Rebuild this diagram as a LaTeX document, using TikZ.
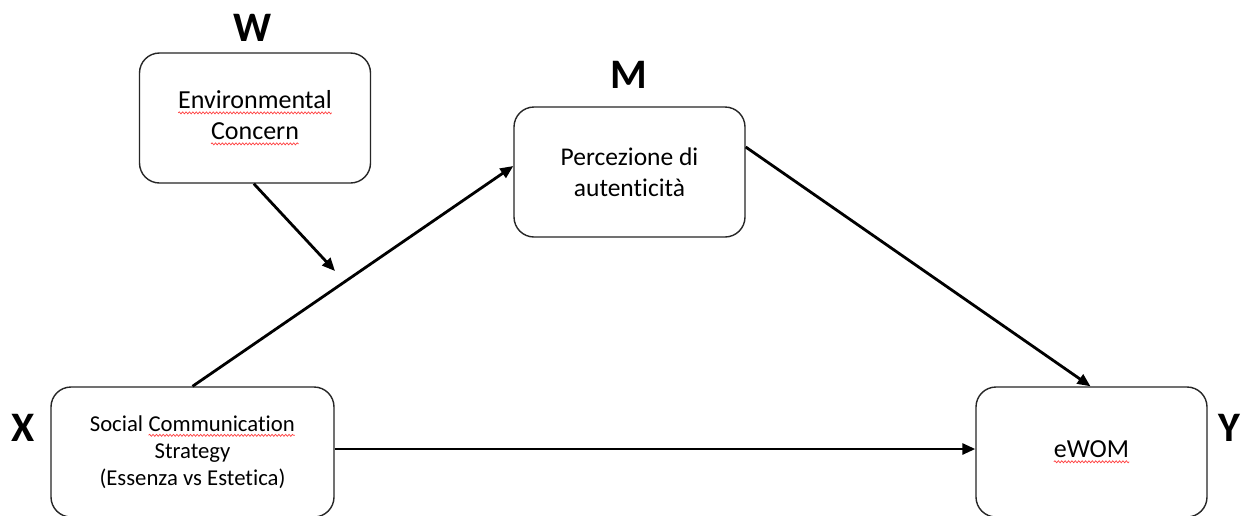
\documentclass[tikz,border=0pt]{standalone}
\usepackage{fontspec}
\setmainfont{Carlito}[RawFeature={-liga}]
\usetikzlibrary{arrows.meta,decorations.pathmorphing}
\tikzset{plainsq/.style={draw=none,minimum width=0pt,minimum height=0pt,inner sep=0pt,outer sep=0pt,rounded corners=0pt,sharp corners}}
\newcommand\squig[1]{\tikz[baseline=(t.base),x=1pt,y=1pt]{\node[plainsq](t){#1};\draw[sharp corners,red!75,line width=0.7pt,decorate,decoration={snake,amplitude=1pt,segment length=3.4pt}]([yshift=-4pt]t.base west)--([yshift=-4pt]t.base east);}}
\begin{document}
\begin{tikzpicture}[x=1pt,y=-1pt,
  box/.style={draw=black!85,line width=1.4pt,rounded corners=20pt,minimum width=231pt,minimum height=130pt,align=center,inner sep=0pt,font=\fontsize{26}{31}\selectfont},
  lab/.style={font=\fontsize{42}{42}\selectfont\bfseries},
  arr/.style={line width=2.8pt,-{Triangle[length=13pt,width=11pt]}}]
\useasboundingbox (0,0) rectangle (1247,515);
\fill[white] (0,0) rectangle (1247,515);
\node[box] (w) at (255,118) {\squig{Environmental}\\\squig{Concern}};
\node[box,font=\fontsize{25.5}{31.5}\selectfont] (m) at (629.5,172) {Percezione di\\autenticità};
\node[box,minimum width=283pt,font=\fontsize{22.7}{27}\selectfont] (x) at (192.5,452) {Social \squig{Communication}\\Strategy\\(Essenza vs Estetica)};
\node[box] (y) at (1091.5,452) {\squig{eWOM}};
\node[lab] (lw) at (253,28) {W};
\node[lab] (lm) at (629,75) {M};
\node[lab] (lx) at (23,428) {X};
\node[lab] (ly) at (1229,428) {Y};
\coordinate (mod) at (335,271);
\coordinate (ws) at ([xshift=115pt]w.south west);
\draw[arr] (ws) -- (mod);
\draw[arr] (x.north) -- ([yshift=6pt]m.west);
\draw[arr] ([yshift=25pt]m.east) -- ([xshift=-1pt]y.north);
\draw[arr] ([yshift=3pt]x.east) -- ([yshift=3pt]y.west);
\end{tikzpicture}
\end{document}
